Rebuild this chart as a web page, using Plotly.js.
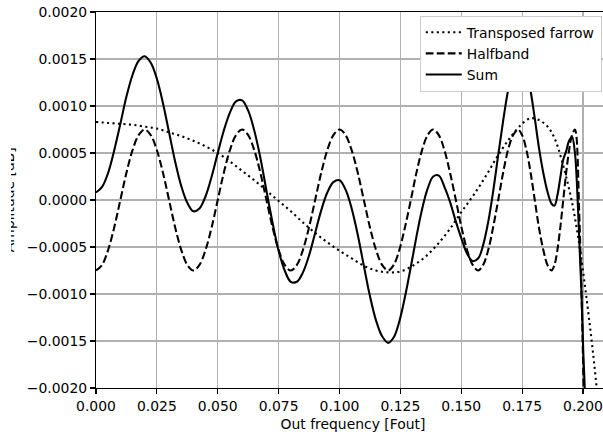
<!DOCTYPE html>
<html>
<head>
<meta charset="utf-8">
<script src="https://cdn.plot.ly/plotly-3.0.1.min.js"></script>
<style>
html,body{margin:0;padding:0;overflow:hidden;background:#fff;}
#wrap{position:relative;width:640px;height:436px;}
#chart{width:640px;height:436px;}
#edge{position:absolute;left:0;top:0;width:11px;height:436px;background:#fff;pointer-events:none;}
</style>
</head>
<body>
<div id="wrap"><div id="chart"></div><div id="edge"></div></div>
<script>
// Transposed farrow (dotted)
const farrowX = [0, 0.005, 0.01, 0.015, 0.02, 0.025, 0.03, 0.035, 0.04, 0.045, 0.05, 0.055, 0.06, 0.065, 0.07, 0.075, 0.08, 0.085, 0.09, 0.095, 0.1, 0.105, 0.11, 0.115, 0.12, 0.125, 0.13, 0.135, 0.14, 0.145, 0.15, 0.155, 0.16, 0.165, 0.17, 0.175, 0.1785, 0.182, 0.1855, 0.1883, 0.1912, 0.1953, 0.1988, 0.2029, 0.2056, 0.207];
const farrowY = [0.00083, 0.00082, 0.00081, 0.0008, 0.00078, 0.00076, 0.00072, 0.00068, 0.00063, 0.00057, 0.0005, 0.00041, 0.00031, 0.00021, 0.0001, -0.00001, -0.00012, -0.00024, -0.00035, -0.00045, -0.00054, -0.00062, -0.0007, -0.00075, -0.00077, -0.00076, -0.0007, -0.00061, -0.00048, -0.00032, -0.00013, 0.00005, 0.00025, 0.00047, 0.00066, 0.00081, 0.00087, 0.00085, 0.00078, 0.00066, 0.00043, 0.0, -0.00053, -0.00135, -0.00199, -0.0024];

// Halfband (dashed)
const halfX = [0, 0.0025, 0.005, 0.0075, 0.01, 0.0125, 0.015, 0.0175, 0.02, 0.0225, 0.025, 0.0275, 0.03, 0.0325, 0.035, 0.0375, 0.04, 0.0425, 0.045, 0.0475, 0.05, 0.0525, 0.055, 0.0575, 0.06, 0.0625, 0.065, 0.0675, 0.07, 0.0725, 0.075, 0.0775, 0.08, 0.0825, 0.085, 0.0875, 0.09, 0.0925, 0.095, 0.0975, 0.1, 0.1025, 0.105, 0.1075, 0.11, 0.1125, 0.115, 0.1175, 0.12, 0.1223, 0.1246, 0.1269, 0.1293, 0.1316, 0.1339, 0.1362, 0.1385, 0.1408, 0.1431, 0.1454, 0.1478, 0.1501, 0.1524, 0.1547, 0.157, 0.159, 0.1611, 0.1631, 0.1652, 0.1672, 0.1692, 0.1713, 0.1733, 0.175, 0.1768, 0.1785, 0.1802, 0.1819, 0.1837, 0.1854, 0.1871, 0.1883, 0.1895, 0.1907, 0.1919, 0.1931, 0.1943, 0.1955, 0.1967, 0.1973, 0.1978, 0.1983, 0.1989, 0.1995, 0.2001, 0.2007];
const halfY = [-0.00075, -0.00069, -0.00053, -0.00029, 0, 0.00029, 0.00053, 0.00069, 0.00075, 0.00069, 0.00053, 0.00029, 0, -0.00029, -0.00053, -0.00069, -0.00075, -0.00069, -0.00053, -0.00029, 0, 0.00029, 0.00053, 0.00069, 0.00075, 0.00069, 0.00053, 0.00029, 0, -0.00029, -0.00053, -0.00069, -0.00075, -0.00069, -0.00053, -0.00029, 0, 0.00029, 0.00053, 0.00069, 0.00075, 0.00069, 0.00053, 0.00029, 0, -0.00029, -0.00053, -0.00069, -0.00075, -0.00069, -0.00053, -0.00029, 0, 0.00029, 0.00053, 0.00069, 0.00075, 0.00069, 0.00053, 0.00029, 0, -0.00029, -0.00053, -0.00069, -0.00075, -0.00069, -0.00053, -0.00029, 0, 0.00029, 0.00053, 0.00069, 0.00075, 0.00069, 0.00053, 0.00029, 0, -0.00029, -0.00053, -0.00069, -0.00075, -0.00069, -0.00053, -0.00029, 0, 0.00029, 0.00053, 0.00069, 0.00075, 0.00068, 0.00045, 0.0, -0.0005, -0.0011, -0.0018, -0.0026];

// Sum (solid)
const sumX = [0, 0.0025, 0.005, 0.0075, 0.01, 0.0125, 0.015, 0.0175, 0.02, 0.0225, 0.025, 0.0275, 0.03, 0.0325, 0.035, 0.0375, 0.04, 0.0425, 0.045, 0.0475, 0.05, 0.0525, 0.055, 0.0575, 0.06, 0.0625, 0.065, 0.0675, 0.07, 0.0725, 0.075, 0.0775, 0.08, 0.0825, 0.085, 0.0875, 0.09, 0.0925, 0.095, 0.0975, 0.1, 0.1025, 0.105, 0.1075, 0.11, 0.1125, 0.115, 0.1175, 0.12, 0.1223, 0.1246, 0.1269, 0.1293, 0.1316, 0.1339, 0.1362, 0.1385, 0.1408, 0.1431, 0.1454, 0.1478, 0.1501, 0.1524, 0.1547, 0.157, 0.159, 0.1611, 0.1631, 0.1652, 0.1672, 0.1692, 0.1713, 0.1733, 0.175, 0.1768, 0.1785, 0.1802, 0.1819, 0.1837, 0.1854, 0.1871, 0.1883, 0.1895, 0.1907, 0.1919, 0.1931, 0.1943, 0.1955, 0.1967, 0.1977, 0.1986, 0.1994, 0.2001, 0.2008, 0.2014];
const sumY = [0.00008, 0.00014, 0.00029, 0.00053, 0.00081, 0.0011, 0.00133, 0.00148, 0.00153, 0.00146, 0.00129, 0.00103, 0.00072, 0.00041, 0.00015, -0.00003, -0.00012, -0.00009, 0.00004, 0.00025, 0.0005, 0.00074, 0.00093, 0.00105, 0.00106, 0.00095, 0.00074, 0.00045, 0.0001, -0.00024, -0.00054, -0.00075, -0.00087, -0.00087, -0.00077, -0.00059, -0.00035, -0.00011, 0.00008, 0.00019, 0.00021, 0.00011, -0.00009, -0.00037, -0.0007, -0.00102, -0.00128, -0.00145, -0.00152, -0.00146, -0.00129, -0.00103, -0.00071, -0.00039, -0.0001, 0.00012, 0.00025, 0.00026, 0.00014, -0.00002, -0.00023, -0.00041, -0.00057, -0.00065, -0.00062, -0.00048, -0.00023, 0.00009, 0.00048, 0.00084, 0.00116, 0.00139, 0.00151, 0.0015, 0.00138, 0.00116, 0.00087, 0.00056, 0.00029, 0.00009, -0.00004, -0.00006, 0.00005, 0.00024, 0.00043, 0.00052, 0.00063, 0.00067, 0.0005, 0.00007, -0.0005, -0.001, -0.0016, -0.00205, -0.0026];

const names = ['Transposed farrow', 'Halfband', 'Sum'];
const xTickVals = [0, 0.025, 0.05, 0.075, 0.1, 0.125, 0.15, 0.175, 0.2];
const yTickVals = [-0.002, -0.0015, -0.001, -0.0005, 0, 0.0005, 0.001, 0.0015, 0.002];

const FONT = 'DejaVu Sans, sans-serif';
const LW = 2.08;

const traces = [
  {x: farrowX, y: farrowY, name: names[0], mode: 'lines',
   line: {color: '#000', width: LW, dash: '2.1px,3.4px', shape: 'spline', smoothing: 1}},
  {x: halfX, y: halfY, name: names[1], mode: 'lines',
   line: {color: '#000', width: LW, dash: '7.7px,3.3px', shape: 'spline', smoothing: 1}},
  {x: sumX, y: sumY, name: names[2], mode: 'lines',
   line: {color: '#000', width: LW, shape: 'spline', smoothing: 1}}
];

const layout = {
  width: 640, height: 436,
  margin: {l: 96, r: 30, t: 12, b: 48},
  paper_bgcolor: '#fff', plot_bgcolor: '#fff',
  font: {family: FONT, size: 13.9, color: '#000'},
  showlegend: true,
  legend: {x: 0.984, xanchor: 'right', y: 0.99, yanchor: 'top', itemwidth: 36,
           bgcolor: '#ffffff', bordercolor: '#cccccc', borderwidth: 1,
           font: {family: FONT, size: 13.9, color: '#000'}, tracegroupgap: 0},
  xaxis: {range: [0, 0.2111], tickvals: xTickVals, tickformat: '.3f',
          showgrid: true, gridcolor: '#b0b0b0', gridwidth: 1.1, zeroline: false,
          showline: true, linecolor: '#000', linewidth: 1.1, mirror: true,
          ticks: 'outside', ticklen: 5, tickwidth: 1.1, tickcolor: '#000',
          tickfont: {family: FONT, size: 13.9, color: '#000'},
          title: {text: 'Out frequency [Fout]', font: {family: FONT, size: 13.9, color: '#000'}, standoff: 6}},
  yaxis: {range: [-0.002, 0.002], tickvals: yTickVals, tickformat: '.4f',
          showgrid: true, gridcolor: '#b0b0b0', gridwidth: 1.1, zeroline: false,
          showline: true, linecolor: '#000', linewidth: 1.1, mirror: true,
          ticks: 'outside', ticklen: 5, tickwidth: 1.1, tickcolor: '#000',
          tickfont: {family: FONT, size: 13.9, color: '#000'}},
  annotations: [{text: 'Amplitude [dB]', xref: 'paper', yref: 'paper', x: -0.169, y: 0.5,
                 xanchor: 'center', yanchor: 'middle', textangle: -90, showarrow: false,
                 font: {family: FONT, size: 13.9, color: '#000'}}]
};

Plotly.newPlot('chart', traces, layout, {displayModeBar: false, staticPlot: true});
</script>
</body>
</html>
